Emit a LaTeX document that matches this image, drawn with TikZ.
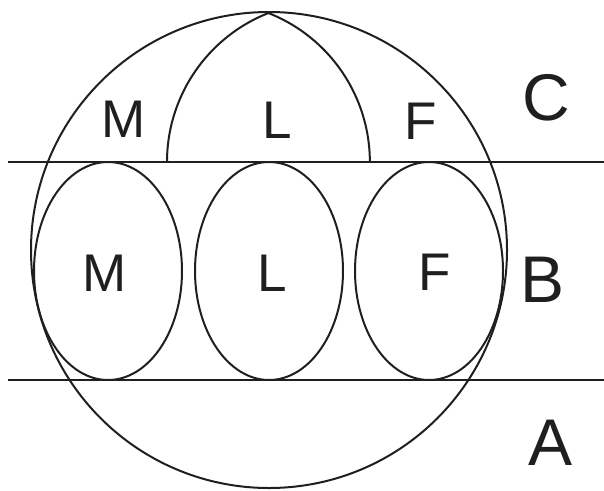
\documentclass[tikz,border=0pt]{standalone}
\usepackage{fontspec}
\setmainfont{Liberation Sans}
\usetikzlibrary{shapes.geometric}

\begin{document}
\begin{tikzpicture}[x=1pt, y=-1pt,
  zone/.style={line width=2pt, black!88},
  lobe/.style={zone, draw, ellipse, minimum width=148pt, minimum height=218pt,
               inner sep=0pt, outer sep=0pt},
  lbl/.style={font=\fontsize{53}{60}\selectfont, inner sep=0pt, text=black!88},
  big/.style={font=\fontsize{66}{72}\selectfont, inner sep=0pt, text=black!88}
]
\useasboundingbox (0,0) rectangle (604,490);
% outer circle and the two levels
\draw[zone] (269,250) circle[radius=238];
\coordinate (upL) at (8,162);   \coordinate (upR) at (604,162);
\coordinate (loL) at (8,380);   \coordinate (loR) at (604,380);
\draw[zone] (upL) -- (upR);
\draw[zone] (loL) -- (loR);
% pointed arch on the upper level
\draw[zone] (167,162) arc[start angle=180, end angle=248.5, radius=160.1]
                      arc[start angle=291.5, end angle=360, radius=160.1];
% three lobes of the middle level
\node[lobe] (lobeM) at (108,271) {};
\node[lobe] (lobeL) at (269,271) {};
\node[lobe] (lobeF) at (429,271) {};
% labels
\node[lbl] (topM) at (124,119) {M};
\node[lbl] (topL) at (277,120) {L};
\node[lbl] (topF) at (421,121) {F};
\node[lbl] (midM) at (105,273) {M};
\node[lbl] (midL) at (272,273) {L};
\node[lbl] (midF) at (435,272) {F};
\node[big] (lvC)  at (546,98)  {C};
\node[big] (lvB)  at (543,280) {B};
\node[big] (lvA)  at (551,443) {A};
\end{tikzpicture}
\end{document}
